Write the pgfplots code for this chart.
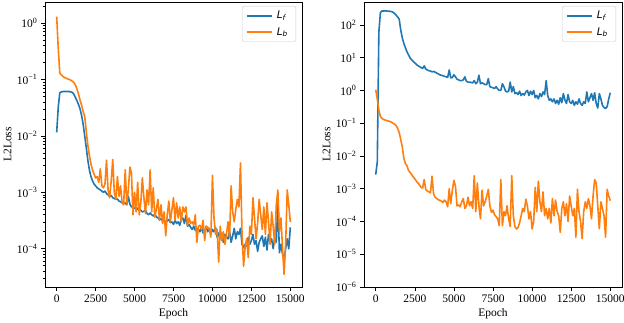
\documentclass[border=0pt]{standalone}
\usepackage{fontspec}
\setmainfont{Liberation Serif}
\newfontfamily\legfont{DejaVu Sans}
\usepackage{pgfplots}
\usepackage{pgfplotstable}
\pgfplotsset{compat=1.18}

\definecolor{mplblue}{HTML}{1F77B4}
\definecolor{mplorange}{HTML}{FF7F0E}

% epoch, L_f, L_b -- left run
\pgfplotstableread{
epoch lf lb
0 0.0115 1.30
100 0.032 0.36
200 0.058 0.13
300 0.060 0.12
400 0.061 0.113
500 0.061 0.108
600 0.061 0.105
700 0.061 0.102
800 0.061 0.100
900 0.060 0.097
1000 0.059 0.093
1100 0.055 0.088
1200 0.048 0.080
1300 0.042 0.068
1400 0.036 0.055
1500 0.030 0.043
1600 0.023 0.035
1700 0.016 0.027
1800 0.010 0.022
1900 0.0062 0.012
2000 0.0037 0.0068
2100 0.0025 0.0045
2200 0.0019 0.0032
2300 0.0016 0.0025
2400 0.0014 0.0021
2500 0.0013 0.0018
2600 1.2e-3 1.9e-3
2700 1.15e-3 1.5e-3
2800 1.1e-3 2.6e-3
2900 1.05e-3 1.3e-3
3000 1.0e-3 1.2e-3
3100 1.05e-3 1.4e-3
3200 9.5e-4 3.7e-3
3300 9.0e-4 1.1e-3
3400 8.5e-4 8.0e-4
3500 8.8e-4 1.6e-3
3600 8.0e-4 3.8e-3
3700 7.8e-4 1.0e-3
3800 7.5e-4 7.5e-4
3900 7.6e-4 1.9e-3
4000 7.0e-4 8.5e-4
4100 6.8e-4 1.3e-3
4200 6.5e-4 6.5e-4
4300 6.3e-4 6.0e-4
4400 6.5e-4 2.5e-3
4500 6.0e-4 6.2e-4
4600 8.5e-4 1.1e-3
4700 6.2e-4 2.8e-3
4800 5.5e-4 2.2e-3
4900 5.8e-4 4.0e-4
5000 5.2e-4 1.0e-3
5100 5.5e-4 4.5e-4
5200 5.0e-4 1.5e-3
5300 5.3e-4 4.0e-4
5400 4.8e-4 6.5e-4
5500 4.5e-4 1.8e-3
5600 4.6e-4 8.0e-4
5700 4.8e-4 4.2e-4
5800 4.2e-4 1.1e-3
5900 4.0e-4 6.0e-4
6000 4.3e-4 2.5e-3
6100 4.0e-4 4.5e-4
6200 3.8e-4 1.2e-3
6300 4.1e-4 3.6e-4
6400 3.7e-4 5.0e-4
6500 3.5e-4 7.5e-4
6600 3.3e-4 3.2e-4
6700 3.4e-4 6.0e-4
6800 3.1e-4 2.8e-4
6900 3.2e-4 4.5e-4
7000 3.0e-4 1.7e-4
7100 3.1e-4 4.0e-4
7200 3.3e-4 7.0e-4
7300 2.9e-4 3.0e-4
7400 3.0e-4 5.0e-4
7500 2.7e-4 8.0e-4
7600 3.2e-4 3.2e-4
7700 2.8e-4 6.5e-4
7800 3.0e-4 3.5e-4
7900 2.6e-4 5.5e-4
8000 3.3e-4 3.0e-4
8100 3.5e-4 5.5e-4
8200 2.8e-4 4.5e-4
8300 3.9e-4 5.5e-4
8400 2.5e-4 2.6e-4
8500 2.7e-4 3.5e-4
8600 2.4e-4 2.8e-4
8700 2.2e-4 3.0e-4
8800 2.5e-4 2.6e-4
8900 2.1e-4 4.0e-4
9000 2.3e-4 1.3e-4
9100 2.2e-4 2.5e-4
9200 2.0e-4 2.6e-4
9300 2.4e-4 2.2e-4
9400 1.9e-4 3.2e-4
9500 2.1e-4 1.4e-4
9600 2.5e-4 2.5e-4
9700 2.0e-4 2.4e-4
9800 2.3e-4 2.2e-4
9900 1.8e-4 1.6e-4
10000 2.2e-4 2.0e-3
10100 2.0e-4 3.5e-4
10200 2.4e-4 1.8e-4
10300 1.6e-4 2.2e-4
10400 1.9e-4 5.8e-5
10500 1.5e-4 2.5e-4
10600 1.9e-4 1.4e-4
10700 1.3e-4 2.0e-4
10800 1.8e-4 1.2e-4
10900 1.6e-4 1.8e-4
11000 1.5e-4 3.0e-4
11100 2.0e-4 1.6e-4
11200 1.3e-4 1.3e-3
11300 1.7e-4 4.5e-4
11400 2.3e-4 3.0e-4
11500 1.5e-4 5.0e-4
11600 2.0e-4 7.5e-4
11700 1.8e-4 5.5e-4
11800 2.3e-4 3.3e-3
11900 1.2e-4 1.8e-4
12000 1.05e-4 4.9e-5
12100 1.2e-4 1.1e-4
12200 1.1e-4 1.5e-4
12300 1.6e-4 7.0e-5
12400 1.2e-4 2.5e-4
12500 1.4e-4 1.8e-4
12600 1.8e-4 8.0e-4
12700 1.2e-4 3.5e-4
12800 1.4e-4 1.5e-4
12900 9.0e-5 2.8e-4
13000 1.3e-4 7.5e-4
13100 1.5e-4 4.0e-4
13200 1.7e-4 2.2e-4
13300 1.1e-4 5.5e-4
13400 1.6e-4 1.8e-4
13500 9.5e-5 6.5e-4
13600 1.8e-4 3.0e-4
13700 1.3e-4 1.2e-4
13800 1.5e-4 4.5e-4
13900 1.0e-4 2.5e-4
14000 1.6e-4 1.2e-4
14100 1.3e-4 6.0e-4
14200 7.0e-4 1.1e-3
14300 8.5e-5 2.0e-4
14400 1.2e-4 3.5e-4
14500 8.0e-5 1.0e-4
14600 6.3e-5 3.5e-5
14700 1.0e-4 1.2e-4
14800 1.5e-4 1.1e-3
14900 1.0e-4 6.0e-4
15000 2.4e-4 3.0e-4
}\leftdata

% epoch, L_f, L_b -- right run
\pgfplotstableread{
epoch lf lb
0 0.0027 1.05
100 0.0065 0.55
200 60 0.25
300 240 0.16
400 265 0.14
500 265 0.13
600 268 0.125
700 265 0.12
800 262 0.117
900 260 0.113
1000 255 0.108
1100 245 0.100
1200 225 0.094
1300 200 0.085
1400 175 0.070
1500 150 0.052
1600 70 0.032
1700 40 0.019
1800 27 0.0085
1900 20 0.0058
2000 15 0.0050
2100 12 0.0036
2200 9.8 0.0031
2300 8.5 0.0027
2400 7.6 0.0023
2500 6.9 0.0020
2600 6.2 0.0017
2700 5.7 0.0015
2800 5.3 0.0013
2900 5.0 0.0011
3000 4.7 0.00105
3100 5.6 0.0019
3200 4.5 0.00095
3300 4.2 8.5e-4
3400 4.0 8.0e-4
3500 3.9 7.5e-4
3600 3.7 0.0024
3700 3.8 7.0e-4
3800 3.6 5.5e-4
3900 3.4 5.0e-4
4000 3.2 4.6e-4
4100 3.0 4.4e-4
4200 2.9 4.2e-4
4300 2.8 3.8e-4
4400 2.7 4.5e-4
4500 2.6 4.0e-4
4600 2.5 2.8e-4
4700 4.2 1.0e-3
4800 2.4 3.5e-4
4900 2.5 9.0e-4
5000 3.0 1.8e-3
5100 2.6 1.2e-3
5200 2.2 3.0e-4
5300 2.1 3.2e-4
5400 2.0 2.8e-4
5500 2.0 4.0e-4
5600 2.1 5.0e-4
5700 2.6 2.5e-4
5800 1.9 3.0e-4
5900 1.8 5.5e-4
6000 1.8 3.0e-4
6100 1.75 4.0e-4
6200 1.7 2.5e-4
6300 2.0 2.5e-3
6400 1.6 2.0e-4
6500 1.8 1.5e-3
6600 2.9 3.0e-4
6700 1.6 1.2e-4
6800 1.7 9.0e-4
6900 1.6 3.0e-4
7000 1.5 4.0e-4
7100 1.5 6.0e-4
7200 2.3 9.5e-4
7300 1.3 3.0e-4
7400 1.25 1.9e-4
7500 1.2 2.2e-4
7600 1.15 1.6e-4
7700 1.3 1.4e-4
7800 1.1 1.2e-4
7900 1.0 7.5e-5
8000 1.0 1.9e-3
8100 1.6 7.5e-5
8200 1.3 2.0e-4
8300 0.95 1.5e-4
8400 0.9 3.0e-4
8500 0.95 1.2e-4
8600 1.8 7.0e-5
8700 0.9 2.5e-3
8800 1.3 1.5e-4
8900 0.8 7.0e-5
9000 0.85 5.9e-5
9100 0.75 6.5e-5
9200 0.95 9.0e-5
9300 0.7 1.5e-4
9400 0.8 2.5e-4
9500 0.72 2.0e-4
9600 0.9 4.8e-4
9700 1.0 3.0e-4
9800 0.7 1.2e-4
9900 0.95 2.0e-4
10000 0.75 5.9e-5
10100 1.0 1.0e-4
10200 0.6 1.1e-3
10300 0.7 2.0e-4
10400 0.55 1.7e-3
10500 0.8 4.0e-4
10600 0.65 2.0e-4
10700 0.9 8.0e-4
10800 0.75 1.5e-4
10900 2.0 2.5e-4
11000 0.7 1.2e-4
11100 0.5 2.5e-4
11200 0.55 9.0e-5
11300 0.45 5.0e-4
11400 0.55 1.5e-4
11500 0.4 4.5e-4
11600 0.5 2.0e-4
11700 0.38 1.5e-4
11800 0.6 4.7e-5
11900 0.42 2.5e-4
12000 0.8 4.0e-4
12100 0.5 1.5e-4
12200 0.4 3.5e-4
12300 0.75 1.0e-4
12400 0.45 6.0e-4
12500 0.4 3.0e-4
12600 0.5 1.5e-4
12700 0.35 2.5e-4
12800 0.45 3.3e-5
12900 0.38 9.6e-4
13000 0.55 2.0e-4
13100 0.4 1.0e-4
13200 0.35 3.0e-5
13300 0.45 2.0e-4
13400 0.4 4.0e-4
13500 0.9 2.5e-4
13600 0.45 5.0e-4
13700 0.6 3.0e-4
13800 0.8 1.2e-4
13900 0.5 6.0e-4
14000 0.85 1.9e-3
14100 0.4 1.5e-3
14200 0.29 3.0e-4
14300 0.8 6.0e-5
14400 0.55 4.0e-4
14500 0.35 2.5e-4
14600 0.3 1.5e-4
14700 0.28 3.3e-5
14800 0.32 9.6e-4
14900 0.55 6.0e-4
15000 0.85 4.3e-4
}\rightdata

\begin{document}
\begin{tikzpicture}
\useasboundingbox (0,0) rectangle (624pt,322pt);

\begin{axis}[
  at={(45pt,35pt)}, anchor=south west,
  ymode=log,
  scale only axis,
  width=257pt, height=285pt,
  xmin=-750, xmax=15750,
  ymin=2.1e-5, ymax=2.35,
  xtick={0,2500,5000,7500,10000,12500,15000},
  scaled x ticks=false,
  xticklabel style={/pgf/number format/fixed, /pgf/number format/1000 sep={}, /pgf/number format/assume math mode=true},
  ytick={1e-4,1e-3,1e-2,1e-1,1},
  yticklabels={10\textsuperscript{−4},10\textsuperscript{−3},10\textsuperscript{−2},10\textsuperscript{−1},10\textsuperscript{0}},
  minor ytick={3e-5,4e-5,5e-5,6e-5,7e-5,8e-5,9e-5,
    2e-4,3e-4,4e-4,5e-4,6e-4,7e-4,8e-4,9e-4,
    2e-3,3e-3,4e-3,5e-3,6e-3,7e-3,8e-3,9e-3,
    2e-2,3e-2,4e-2,5e-2,6e-2,7e-2,8e-2,9e-2,
    0.2,0.3,0.4,0.5,0.6,0.7,0.8,0.9,2},
  tick align=outside,
  xtick pos=lower, ytick pos=left,
  major tick length=4pt, minor tick length=2.3pt,
  tick style={black, line width=0.6pt},
  axis line style={line width=0.7pt},
  tick label style={font=\fontsize{11.5}{13}\selectfont},
  label style={font=\fontsize{11.5}{13}\selectfont},
  xlabel={Epoch}, ylabel={L2Loss},
  x label style={at={(axis description cs:0.5,-0.095)}, anchor=center},
  y label style={at={(axis description cs:-0.145,0.5)}, anchor=center},
  legend style={at={(axis description cs:0.977,0.986)}, anchor=north east,
    draw=black!20, rounded corners=2pt,
    font=\legfont\fontsize{10.5}{12}\selectfont\itshape,
    inner xsep=4pt, inner ysep=4pt, row sep=5pt,
    nodes={inner xsep=4pt, inner ysep=1pt}},
  legend cell align=left,
  legend image code/.code={\draw[#1, line width=1.6pt] (0pt,0pt) -- (25pt,0pt);},
]
\addplot[mplblue, line width=1.6pt, line join=round] table[x=epoch, y=lf] {\leftdata};
\addlegendentry{L\textsubscript{f}}
\addplot[mplorange, line width=1.6pt, line join=round] table[x=epoch, y=lb] {\leftdata};
\addlegendentry{L\textsubscript{b}}
\end{axis}

\begin{axis}[
  at={(364pt,35pt)}, anchor=south west,
  ymode=log,
  scale only axis,
  width=258pt, height=285pt,
  xmin=-750, xmax=15750,
  ymin=1e-6, ymax=500,
  xtick={0,2500,5000,7500,10000,12500,15000},
  scaled x ticks=false,
  xticklabel style={/pgf/number format/fixed, /pgf/number format/1000 sep={}, /pgf/number format/assume math mode=true},
  ytick={1e-6,1e-5,1e-4,1e-3,1e-2,1e-1,1,10,100},
  yticklabels={10\textsuperscript{−6},10\textsuperscript{−5},10\textsuperscript{−4},10\textsuperscript{−3},10\textsuperscript{−2},10\textsuperscript{−1},10\textsuperscript{0},10\textsuperscript{1},10\textsuperscript{2}},
  tick align=outside,
  xtick pos=lower, ytick pos=left,
  major tick length=4pt, minor tick length=0pt,
  tick style={black, line width=0.6pt},
  axis line style={line width=0.7pt},
  tick label style={font=\fontsize{11.5}{13}\selectfont},
  label style={font=\fontsize{11.5}{13}\selectfont},
  xlabel={Epoch}, ylabel={L2Loss},
  x label style={at={(axis description cs:0.5,-0.095)}, anchor=center},
  y label style={at={(axis description cs:-0.145,0.5)}, anchor=center},
  legend style={at={(axis description cs:0.977,0.986)}, anchor=north east,
    draw=black!20, rounded corners=2pt,
    font=\legfont\fontsize{10.5}{12}\selectfont\itshape,
    inner xsep=4pt, inner ysep=4pt, row sep=5pt,
    nodes={inner xsep=4pt, inner ysep=1pt}},
  legend cell align=left,
  legend image code/.code={\draw[#1, line width=1.6pt] (0pt,0pt) -- (25pt,0pt);},
]
\addplot[mplblue, line width=1.6pt, line join=round] table[x=epoch, y=lf] {\rightdata};
\addlegendentry{L\textsubscript{f}}
\addplot[mplorange, line width=1.6pt, line join=round] table[x=epoch, y=lb] {\rightdata};
\addlegendentry{L\textsubscript{b}}
\end{axis}
\end{tikzpicture}
\end{document}
